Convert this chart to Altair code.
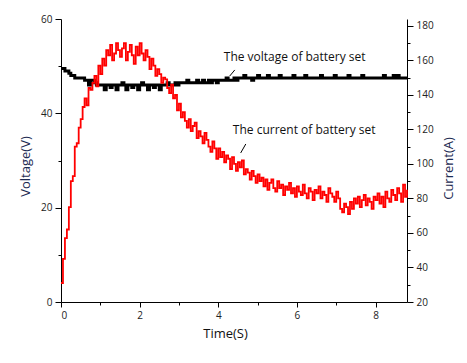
import altair as alt
import pandas as pd

t_step = 0.05
n_pts = 177
time_s = [round(i * t_step, 2) for i in range(n_pts)]

voltage_v = [
    49.5, 49.5, 49.0, 49.0, 48.5, 48.0, 48.0, 47.5, 47.5, 47.5,
    47.5, 47.5, 47.0, 47.0, 46.0, 47.0, 47.0, 46.5, 46.0, 46.0,
    46.0,
    46.0, 45.0, 46.0, 46.0, 45.5, 46.0, 46.0, 45.0, 46.0, 46.0,
    46.5, 46.0, 45.0, 46.0, 46.0, 45.5, 46.0, 46.0, 45.0, 46.0,
    46.5, 46.0, 46.0, 45.0, 46.0, 46.0, 45.5, 46.0, 46.0, 45.0,
    46.0, 46.0, 46.0, 46.5, 46.0, 46.0, 46.0, 46.5, 46.0, 46.5,
    46.5, 46.5, 46.5, 47.0, 46.5, 46.5, 46.5, 46.5, 47.0, 46.5,
    46.5, 47.0, 46.5, 46.5, 47.0, 46.5, 47.0, 47.0, 46.5, 47.0,
    47.0, 47.0, 47.0, 47.5, 47.0, 47.0, 47.0, 47.5, 47.0, 47.5,
    47.5, 47.5, 48.0, 47.5, 47.5, 47.5, 47.0, 47.5, 47.5, 48.0,
    47.5, 47.5, 47.5, 47.5, 48.0, 47.5, 47.5, 47.5, 47.5, 47.5,
    48.0, 47.5, 47.5, 47.5, 47.5, 47.5, 47.5, 48.0, 47.5, 47.5,
    47.5, 47.5, 47.5, 48.0, 47.5, 47.5, 47.5, 47.5, 47.5, 47.5,
    47.5, 48.0, 47.5, 47.5, 47.5, 47.5, 47.5, 47.5, 48.0, 47.5,
    47.5, 47.5, 47.5, 47.5, 47.5, 48.0, 47.5, 47.5, 47.5, 47.5,
    47.5, 47.5, 48.0, 47.5, 47.5, 47.5, 47.5, 47.5, 47.5, 47.5,
    47.5, 47.5, 47.5, 48.0, 47.5, 47.5, 47.5, 47.5, 48.0, 47.5,
    48.0, 47.5, 47.5, 47.5, 47.5, 47.5,
]

current_a = [
    31, 45, 57, 62, 75, 90, 93, 110, 112, 121,
    126, 133, 138, 134, 144, 143, 147, 151, 145, 157,
    152, 161, 157, 166, 163, 169, 160, 164, 170, 166,
    162, 167, 170, 160, 165, 169, 163, 158, 168, 163,
    170, 164, 160, 166, 162, 155, 161, 157, 151, 155,
    152, 147, 150, 149, 144, 141, 146, 138, 140, 131,
    135, 127, 130, 125, 121, 126, 119, 122, 124, 115,
    119, 116, 112, 118, 114, 110, 107, 113, 109, 103,
    109, 104, 107, 101, 105, 103, 97, 104, 100, 96,
    101, 98, 102, 94, 97, 95, 91, 96, 93, 89,
    94, 90, 92, 87, 91, 85, 89, 91, 86, 84,
    90, 86, 88, 82, 87, 85, 89, 83, 86, 81,
    87, 84, 82, 88, 83, 80, 86, 84, 79, 85,
    83, 87, 80, 84, 82, 78, 86, 83, 81, 78,
    84, 80, 74, 72, 77, 75, 71, 78, 74, 80,
    77, 81, 75, 79, 82, 76, 80, 78, 74, 81,
    79, 83, 77, 81, 75, 84, 80, 78, 85, 82,
    79, 86, 83, 78, 88, 81, 85,
]

note_text = ["The voltage of battery set", "The current of battery set"]
note_t = [4.14, 4.37]
note_v = [52.0, 36.5]
leader_t1 = [4.29, 4.57]
leader_t2 = [4.42, 4.70]
leader_v1 = [47.9, 31.6]
leader_v2 = [49.2, 33.5]

df = pd.DataFrame({"t": time_s, "V": voltage_v, "I": current_a})
notes = pd.DataFrame({"text": note_text, "t": note_t, "V": note_v})
leaders = pd.DataFrame({"t1": leader_t1, "t2": leader_t2, "v1": leader_v1, "v2": leader_v2})

FONT = "Open Sans"
TITLE_COLOR = "#1c2a52"

x_scale = alt.Scale(domain=[0, 8.8], nice=False, zero=False)
v_scale = alt.Scale(domain=[0, 60], nice=False)
i_scale = alt.Scale(domain=[20, 184], nice=False)

x_axis = alt.Axis(
    title="Time(S)", values=[0, 1, 2, 3, 4, 5, 6, 7, 8],
    labelExpr="datum.value % 2 === 0 ? datum.label : ''",
    tickSize={"condition": {"test": "datum.value % 2 === 0", "value": 5}, "value": 3},
    titleX=164, titleY=25, titleBaseline="top", titleFontSize=13,
    titleFontWeight="normal", titleColor="#111111",
)

v_axis = alt.Axis(
    title="Voltage(V)", values=[0, 10, 20, 30, 40, 50, 60],
    labelExpr="datum.value % 20 === 0 ? datum.label : ''",
    tickSize={"condition": {"test": "datum.value % 20 === 0", "value": 6}, "value": 3},
    titleAngle=-90, titleX=-36, titleY=147, titleBaseline="middle", titleAlign="center",
    titleFontSize=13, titleFontWeight="normal", titleColor=TITLE_COLOR,
)

i_axis = alt.Axis(
    title="Current(A)", orient="right",
    values=[20, 30, 40, 50, 60, 70, 80, 90, 100, 110, 120, 130, 140, 150, 160, 170, 180],
    labelExpr="datum.value % 20 === 0 ? datum.label : ''",
    tickSize={"condition": {"test": "datum.value % 20 === 0", "value": 6}, "value": 3},
    titleAngle=-90, titleX=41, titleY=149, titleBaseline="middle", titleAlign="center",
    titleFontSize=13, titleFontWeight="normal", titleColor=TITLE_COLOR,
)

v_line = alt.Chart(df).mark_line(interpolate="step-after", color="black", strokeWidth=3).encode(
    x=alt.X("t:Q", scale=x_scale, axis=x_axis),
    y=alt.Y("V:Q", scale=v_scale, axis=v_axis),
)

note_marks = alt.Chart(notes).mark_text(align="left", baseline="middle", fontSize=12, font=FONT, color="#111111").encode(
    x=alt.X("t:Q", scale=x_scale),
    y=alt.Y("V:Q", scale=v_scale),
    text="text:N",
)

leader_marks = alt.Chart(leaders).mark_rule(color="black", strokeWidth=1).encode(
    x=alt.X("t1:Q", scale=x_scale),
    x2="t2:Q",
    y=alt.Y("v1:Q", scale=v_scale),
    y2="v2:Q",
)

left = alt.layer(v_line, note_marks, leader_marks)

i_line = alt.Chart(df).mark_line(interpolate="step-after", color="#ff0000", strokeWidth=1.8).encode(
    x=alt.X("t:Q", scale=x_scale),
    y=alt.Y("I:Q", scale=i_scale, axis=i_axis),
)

chart = alt.layer(left, i_line).resolve_scale(y="independent").properties(
    width=346, height=283,
    autosize=alt.AutoSizeParams(type="none"),
    padding={"left": 53, "top": 11, "right": 50, "bottom": 40},
).configure_axis(
    grid=False, domainColor="black", tickColor="black", domainWidth=1, tickWidth=1,
    labelFont=FONT, titleFont=FONT, labelFontSize=10, labelColor="#222222", labelPadding=3,
).configure_view(stroke=None)

chart.save("out.html", embed_options={"renderer": "svg", "actions": False})
